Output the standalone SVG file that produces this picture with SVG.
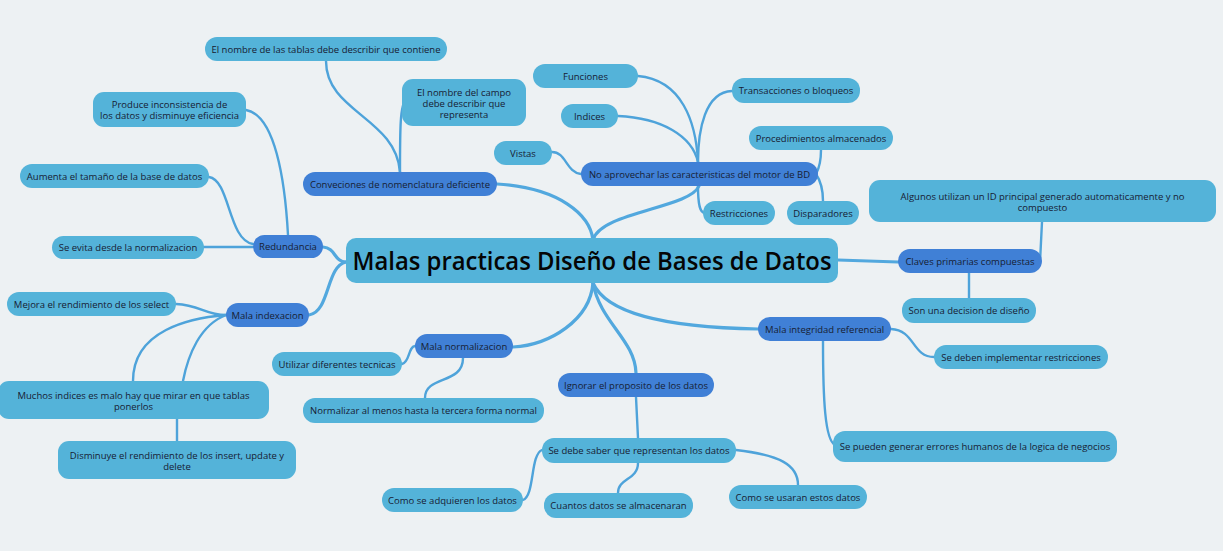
<svg xmlns="http://www.w3.org/2000/svg" width="1223" height="551" viewBox="0 0 1223 551">
<style>
.bg{fill:#edf1f3}
.lt rect{fill:#54b3d9}
.dk rect{fill:#4080d6}
text{font-family:"Open Sans","Noto Sans","DejaVu Sans",sans-serif;font-size:9.5px;fill:#172033;text-anchor:middle}
.title{font-size:25px;font-weight:600;fill:#050505}
.c1{fill:none;stroke:#52a8de;stroke-width:3.2;stroke-linecap:round}
.c2{fill:none;stroke:#4ea3da;stroke-width:2.4;stroke-linecap:round}
</style>
<rect class="bg" x="0" y="0" width="1223" height="551"/>
<g id="connectors">
<path class="c1" d="M593,240 C590,215 560,188 497,184"/>
<path class="c1" d="M593,240 C600,212 690,208 699,186"/>
<path class="c1" d="M346,262 C334,262 336,248 323,247"/>
<path class="c1" d="M346,262 C326,266 330,312 309,315"/>
<path class="c1" d="M838,260 L898,262"/>
<path class="c1" d="M593,283 C590,320 550,345 513,347"/>
<path class="c1" d="M593,283 C600,322 635,340 636,373"/>
<path class="c1" d="M593,283 C610,322 700,328 758,329"/>
<path class="c2" d="M326,61 C326,112 396,118 400,172"/>
<path class="c2" d="M400,172 C400,130 400,104 406,100"/>
<path class="c2" d="M638,76 C682,80 696,122 698,162"/>
<path class="c2" d="M618,116 C662,118 692,136 698,162"/>
<path class="c2" d="M732,91 C705,92 698,130 698,162"/>
<path class="c2" d="M552,152 C566,152 566,172 581,174"/>
<path class="c2" d="M821,150 C821,165 818,170 816,174 C820,180 823,190 823,201"/>
<path class="c2" d="M698,186 C698,205 700,213 705,213"/>
<path class="c2" d="M1042,222 L1040,262"/>
<path class="c2" d="M969,273 L969,298"/>
<path class="c2" d="M891,329 C915,330 912,357 934,357"/>
<path class="c2" d="M823,341 C823,400 825,440 835,445"/>
<path class="c2" d="M636,397 L638,438"/>
<path class="c2" d="M523,500 C535,495 530,455 542,450"/>
<path class="c2" d="M638,463 C638,480 618,478 618,493"/>
<path class="c2" d="M736,450 C780,455 798,465 798,485"/>
<path class="c2" d="M402,364 C410,362 408,347 415,346"/>
<path class="c2" d="M463,358 C463,385 425,375 425,398"/>
<path class="c2" d="M246,110 C275,115 285,180 288,235"/>
<path class="c2" d="M209,177 C230,180 228,240 253,244"/>
<path class="c2" d="M204,247 L253,247"/>
<path class="c2" d="M176,304 C200,305 205,315 226,315"/>
<path class="c2" d="M133,381 C133,330 190,318 226,315"/>
<path class="c2" d="M226,315 C200,325 188,355 183,381"/>
<path class="c2" d="M177,419 L177,441"/>
</g>
<g id="central" class="lt"><rect x="346" y="238" width="492" height="45" rx="10"/><text class="title" x="592" y="270" textLength="479" lengthAdjust="spacingAndGlyphs">Malas practicas Diseño de Bases de Datos</text></g>
<g id="conveciones" class="dk"><rect x="303" y="172" width="194" height="24" rx="12"/><text x="400" y="187.5">Conveciones de nomenclatura deficiente</text></g>
<g id="no-aprovechar" class="dk"><rect x="581" y="162" width="237" height="24" rx="12"/><text x="699.5" y="177.5">No aprovechar las caracteristicas del motor de BD</text></g>
<g id="claves" class="dk"><rect x="898" y="249" width="144" height="24" rx="12"/><text x="970" y="264.5">Claves primarias compuestas</text></g>
<g id="integridad" class="dk"><rect x="758" y="317" width="133" height="24" rx="12"/><text x="824.5" y="332.5">Mala integridad referencial</text></g>
<g id="ignorar" class="dk"><rect x="558" y="373" width="156" height="24" rx="12"/><text x="636" y="388.5">Ignorar el proposito de los datos</text></g>
<g id="normalizacion" class="dk"><rect x="415" y="334" width="98" height="24" rx="12"/><text x="464" y="349.5">Mala normalizacion</text></g>
<g id="indexacion" class="dk"><rect x="226" y="303" width="83" height="24" rx="12"/><text x="267.5" y="318.5">Mala indexacion</text></g>
<g id="redundancia" class="dk"><rect x="253" y="235" width="70" height="23" rx="11.5"/><text x="288" y="250">Redundancia</text></g>
<g id="tablas" class="lt"><rect x="205" y="37" width="242" height="24" rx="12"/><text x="326" y="52.5">El nombre de las tablas debe describir que contiene</text></g>
<g id="campo" class="lt"><rect x="402" y="79" width="124" height="47" rx="11"/><text x="464" y="95.5">El nombre del campo</text><text x="464" y="106.5">debe describir que</text><text x="464" y="117.5">representa</text></g>
<g id="produce" class="lt"><rect x="93" y="92" width="153" height="35" rx="11"/><text x="169.5" y="107.5">Produce inconsistencia de</text><text x="169.5" y="119">los datos y disminuye eficiencia</text></g>
<g id="aumenta" class="lt"><rect x="20" y="164" width="189" height="24" rx="12"/><text x="114.5" y="179.5">Aumenta el tamaño de la base de datos</text></g>
<g id="se-evita" class="lt"><rect x="52" y="236" width="152" height="23" rx="11.5"/><text x="128" y="251">Se evita desde la normalizacion</text></g>
<g id="mejora" class="lt"><rect x="7" y="292" width="169" height="24" rx="12"/><text x="91.5" y="307.5">Mejora el rendimiento de los select</text></g>
<g id="muchos" class="lt"><rect x="-2" y="381" width="271" height="38" rx="11"/><text x="133.5" y="398.5">Muchos indices es malo hay que mirar en que tablas</text><text x="133.5" y="409.5">ponerlos</text></g>
<g id="disminuye" class="lt"><rect x="58" y="441" width="238" height="38" rx="11"/><text x="177" y="458.5">Disminuye el rendimiento de los insert, update y</text><text x="177" y="469.5">delete</text></g>
<g id="utilizar" class="lt"><rect x="272" y="352" width="130" height="24" rx="12"/><text x="337" y="367.5">Utilizar diferentes tecnicas</text></g>
<g id="normalizar" class="lt"><rect x="303" y="398" width="241" height="25" rx="12"/><text x="423.5" y="414">Normalizar al menos hasta la tercera forma normal</text></g>
<g id="se-debe-saber" class="lt"><rect x="542" y="438" width="194" height="25" rx="12"/><text x="639" y="454">Se debe saber que representan los datos</text></g>
<g id="adquieren" class="lt"><rect x="382" y="488" width="141" height="24" rx="12"/><text x="452.5" y="503.5">Como se adquieren los datos</text></g>
<g id="cuantos" class="lt"><rect x="544" y="493" width="149" height="25" rx="12"/><text x="618.5" y="509">Cuantos datos se almacenaran</text></g>
<g id="usaran" class="lt"><rect x="729" y="485" width="138" height="24" rx="12"/><text x="798" y="500.5">Como se usaran estos datos</text></g>
<g id="implementar" class="lt"><rect x="934" y="345" width="174" height="24" rx="12"/><text x="1021" y="360.5">Se deben implementar restricciones</text></g>
<g id="errores" class="lt"><rect x="833" y="431" width="284" height="31" rx="12"/><text x="975" y="450">Se pueden generar errores humanos de la logica de negocios</text></g>
<g id="algunos" class="lt"><rect x="869" y="180" width="347" height="42" rx="11"/><text x="1042.5" y="199.5">Algunos utilizan un ID principal generado automaticamente y no</text><text x="1042.5" y="210.5">compuesto</text></g>
<g id="son-una" class="lt"><rect x="902" y="298" width="134" height="25" rx="12"/><text x="969" y="314">Son una decision de diseño</text></g>
<g id="funciones" class="lt"><rect x="533" y="64" width="105" height="24" rx="12"/><text x="585.5" y="79.5">Funciones</text></g>
<g id="indices" class="lt"><rect x="561" y="104" width="57" height="24" rx="12"/><text x="589.5" y="119.5">Indices</text></g>
<g id="vistas" class="lt"><rect x="494" y="141" width="58" height="24" rx="12"/><text x="523" y="156.5">Vistas</text></g>
<g id="transacciones" class="lt"><rect x="732" y="78" width="128" height="25" rx="12"/><text x="796" y="94">Transacciones o bloqueos</text></g>
<g id="procedimientos" class="lt"><rect x="749" y="126" width="144" height="24" rx="12"/><text x="821" y="141.5">Procedimientos almacenados</text></g>
<g id="restricciones" class="lt"><rect x="703" y="201" width="72" height="24" rx="12"/><text x="739" y="216.5">Restricciones</text></g>
<g id="disparadores" class="lt"><rect x="787" y="201" width="72" height="24" rx="12"/><text x="823" y="216.5">Disparadores</text></g>
</svg>
